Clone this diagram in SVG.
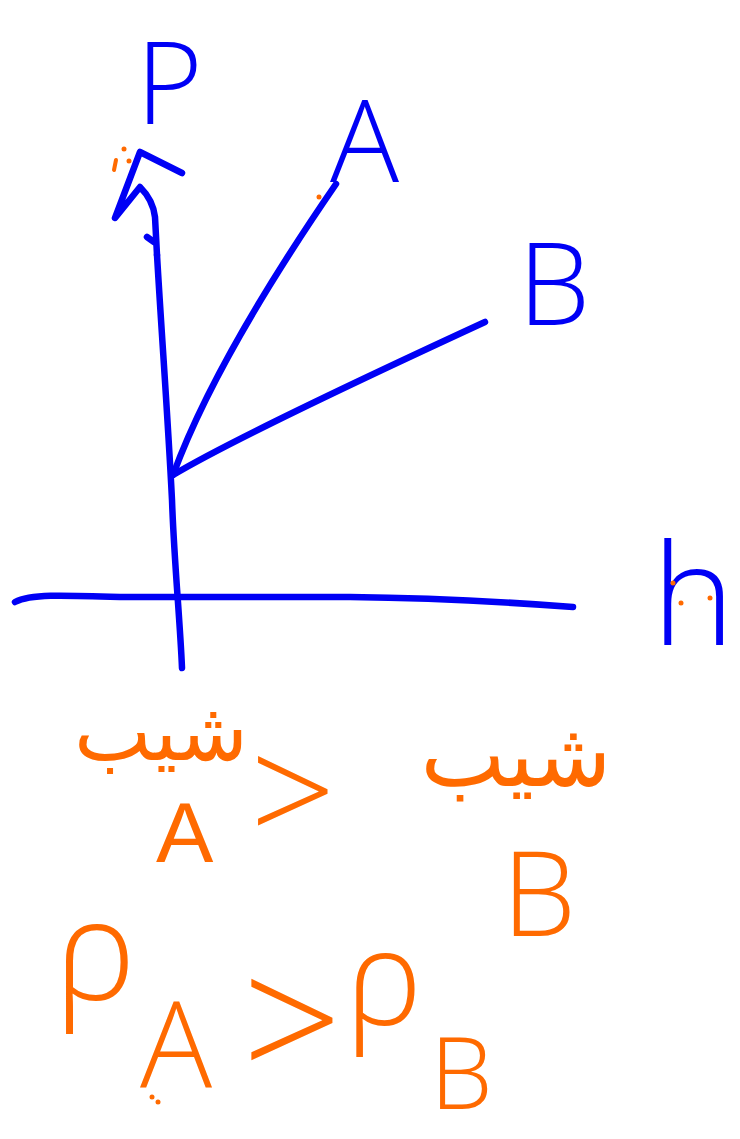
<svg xmlns="http://www.w3.org/2000/svg" width="740" height="1139" viewBox="0 0 740 1139">
<style>
.ink{fill:none;stroke:#0000f5;stroke-width:6.5;stroke-linecap:round;stroke-linejoin:round}
.bt{fill:#0000f5;font-family:"Open Sans","Liberation Sans",sans-serif;font-weight:300}
.ot{fill:#ff6a00;font-family:"Open Sans","Liberation Sans",sans-serif;font-weight:300}
.ol{fill:#ff6a00;font-family:"Liberation Sans",sans-serif}
.fa{fill:#ff6a00;font-family:"DejaVu Sans",sans-serif}
.dot{fill:#ff6a00}
</style>
<rect width="740" height="1139" fill="#ffffff"/>
<g id="axes">
  <path class="ink" d="M182,668 C180,620 174,560 172,500 C168,420 162,340 157,255"/>
  <path class="ink" d="M147,237 L154,242"/>
  <path class="ink" d="M182,173 L140,152 L115,218 L140,187 Q153,200 155,217 L157,255"/>
  <path class="ink" d="M15,602 C30,594 60,595 120,597 L350,597 C450,598 520,603 573,607"/>
</g>
<g id="connectors">
  <path class="ink" d="M173,475 Q215,360 336,184"/>
  <path class="ink" d="M173,475 Q240,435 485,322"/>
</g>
<g id="label-P"><text class="bt" x="136" y="124" font-size="114">P</text></g>
<g id="label-A"><text class="bt" x="330" y="182" font-size="115">A</text></g>
<g id="label-B"><text class="bt" x="518" y="325" font-size="115">B</text></g>
<g id="label-h"><text class="bt" x="652" y="645" font-size="140">h</text></g>
<g id="marks">
  <path d="M116,160 L114,170" stroke="#ff6a00" stroke-width="4" stroke-linecap="round"/>
  <circle class="dot" cx="124" cy="149" r="2.5"/>
  <circle class="dot" cx="129" cy="161" r="2.5"/>
  <circle class="dot" cx="319" cy="197" r="2.5"/>
  <circle class="dot" cx="673" cy="583" r="2.5"/>
  <circle class="dot" cx="681" cy="603" r="2.5"/>
  <circle class="dot" cx="710" cy="598" r="2.5"/>
</g>
<g id="slope-A">
  <text class="fa" x="161" y="760" font-size="82" text-anchor="middle">شیب</text>
  <text class="ol" x="156" y="862" font-size="86">A</text>
</g>
<g id="gt-1"><text class="ot" x="250" y="845" font-size="150">&gt;</text></g>
<g id="slope-B">
  <text class="fa" x="516" y="786" font-size="90" text-anchor="middle">شیب</text>
  <text class="ot" x="502" y="936" font-size="118">B</text>
</g>
<g id="rho-A">
  <text class="ot" x="54" y="1000" font-size="140">ρ</text>
  <text class="ot" x="140" y="1087" font-size="120">A</text>
  <circle class="dot" cx="152" cy="1097" r="2.5"/>
  <circle class="dot" cx="158" cy="1102" r="2.5"/>
</g>
<g id="gt-2"><text class="ot" x="242" y="1083" font-size="175">&gt;</text></g>
<g id="rho-B">
  <text class="ot" x="345" y="1025" font-size="132">ρ</text>
  <text class="ot" x="430" y="1109" font-size="100">B</text>
</g>
</svg>
